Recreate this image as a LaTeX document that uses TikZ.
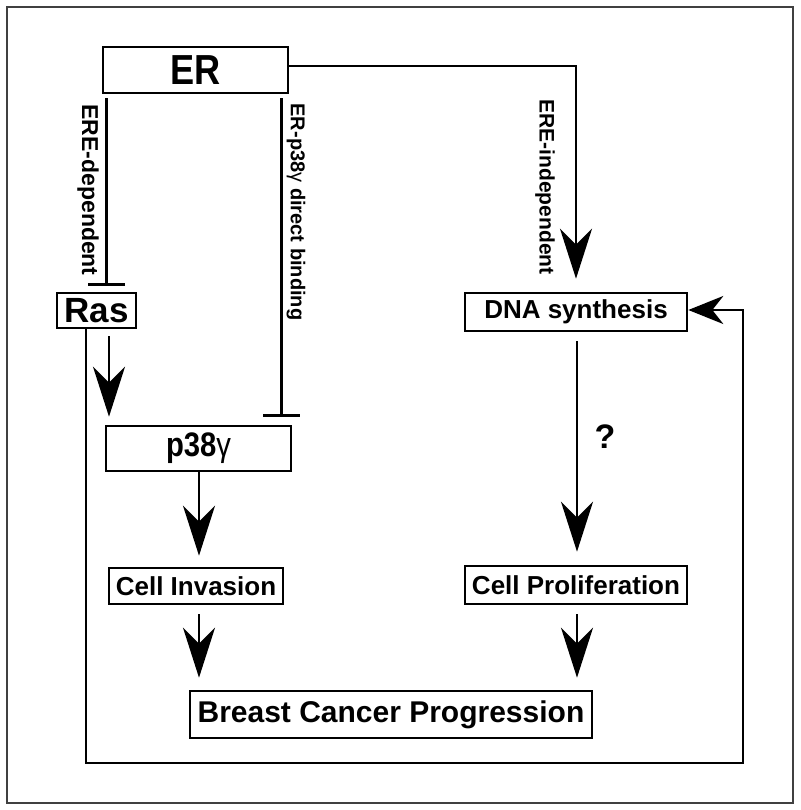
\documentclass[tikz,border=0pt]{standalone}
\usepackage{fontspec}
\setmainfont{Liberation Sans}
\newfontfamily\condfont[FakeStretch=0.86]{Liberation Sans}
\usetikzlibrary{arrows.meta}
\begin{document}
\begin{tikzpicture}[x=1pt,y=-1pt,
  box/.style={draw, line width=2.6pt, inner sep=0pt, font=\bfseries},
  conn/.style={line width=2.6pt, line join=miter},
  act/.style={conn, -{Stealth[length=50pt,width=32pt,inset=16pt]}},
  actsmall/.style={conn, -{Stealth[length=35pt,width=28pt,inset=11pt]}},
  inh/.style={conn, -{Bar[width=37pt]}},
  lbl/.style={rotate=-90, inner sep=0pt}
]
\useasboundingbox (0,0) rectangle (800,810);
\draw[line width=1.5pt, black!75] (7,7) rectangle (793,803);

\node[box, minimum width=185pt, minimum height=46pt, font=\condfont\bfseries\fontsize{42}{42}\selectfont] (ER) at (195.5,70) {ER};
\node[box, minimum width=79pt, minimum height=35pt, font=\bfseries\fontsize{35}{35}\selectfont] (Ras) at (96.5,310.5) {Ras};
\node[box, minimum width=185pt, minimum height=45pt, font=\condfont\bfseries\fontsize{34}{34}\selectfont] (p38) at (198.5,448.5) {p38\textmd{γ}};
\node[box, minimum width=222pt, minimum height=38pt, font=\bfseries\fontsize{26}{26}\selectfont] (DNA) at (576,312) {DNA synthesis};
\node[box, minimum width=174pt, minimum height=36pt, font=\bfseries\fontsize{26}{26}\selectfont] (CI) at (196,586) {Cell Invasion};
\node[box, minimum width=222pt, minimum height=38pt, font=\bfseries\fontsize{26}{26}\selectfont] (CP) at (576,585) {Cell Proliferation};
\node[box, minimum width=402pt, minimum height=47pt, font=\bfseries\fontsize{30}{30}\selectfont] (BCP) at (391,714.5) {Breast Cancer Progression};

\node[font=\bfseries\fontsize{34}{34}\selectfont] (q) at (605,437) {?};

\node[lbl, font=\bfseries\fontsize{23}{23}\selectfont] (l1) at (88,190) {ERE-dependent};
\node[lbl, font=\bfseries\fontsize{20}{20}\selectfont] (l2) at (296,212) {ER-p38\textmd{γ} direct binding};
\node[lbl, font=\bfseries\fontsize{21}{21}\selectfont] (l3) at (545,187) {ERE-independent};

% ER -> DNA synthesis
\draw[act] ([yshift=4pt]ER.east) -| ([yshift=13pt]DNA.north);
% ER -| Ras
\coordinate (ereTop) at ([shift={(5pt,-4pt)}]ER.south west);
\coordinate (ereBot) at ([yshift=6pt]Ras.north);
\draw[inh] (ereTop) -- (ereTop |- ereBot);
% ER -| p38
\coordinate (bTop) at ([shift={(-8pt,-4pt)}]ER.south east);
\coordinate (bBot) at ([yshift=8pt]p38.north);
\draw[inh] (bTop) -- (bTop |- bBot);
% Ras -> p38
\coordinate (rTop) at ([shift={(12.5pt,-7pt)}]Ras.south);
\coordinate (rBot) at ([yshift=8pt]p38.north);
\draw[act] (rTop) -- (rTop |- rBot);
% Ras loop -> DNA synthesis
\coordinate (loopS) at ([xshift=-10.5pt]Ras.south);
\coordinate (loopBR) at (743,763);
\draw[actsmall] (loopS) |- (loopBR) |- ([yshift=2pt]DNA.east);
% p38 -> Cell invasion
\coordinate (pA) at ([xshift=0.5pt]p38.south);
\coordinate (pB) at ([yshift=11pt]CI.north);
\draw[act] (pA) -- (pA |- pB);
% Cell invasion -> BCP
\coordinate (cA) at ([shift={(3pt,-9pt)}]CI.south);
\coordinate (cB) at ([yshift=12pt]BCP.north);
\draw[act] (cA) -- (cA |- cB);
% DNA -> Cell proliferation
\coordinate (dA) at ([shift={(1pt,-9pt)}]DNA.south);
\coordinate (dB) at ([yshift=13pt]CP.north);
\draw[act] (dA) -- (dA |- dB);
% Cell proliferation -> BCP
\coordinate (eA) at ([shift={(1pt,-9pt)}]CP.south);
\draw[act] (eA) -- (eA |- cB);
\end{tikzpicture}
\end{document}
